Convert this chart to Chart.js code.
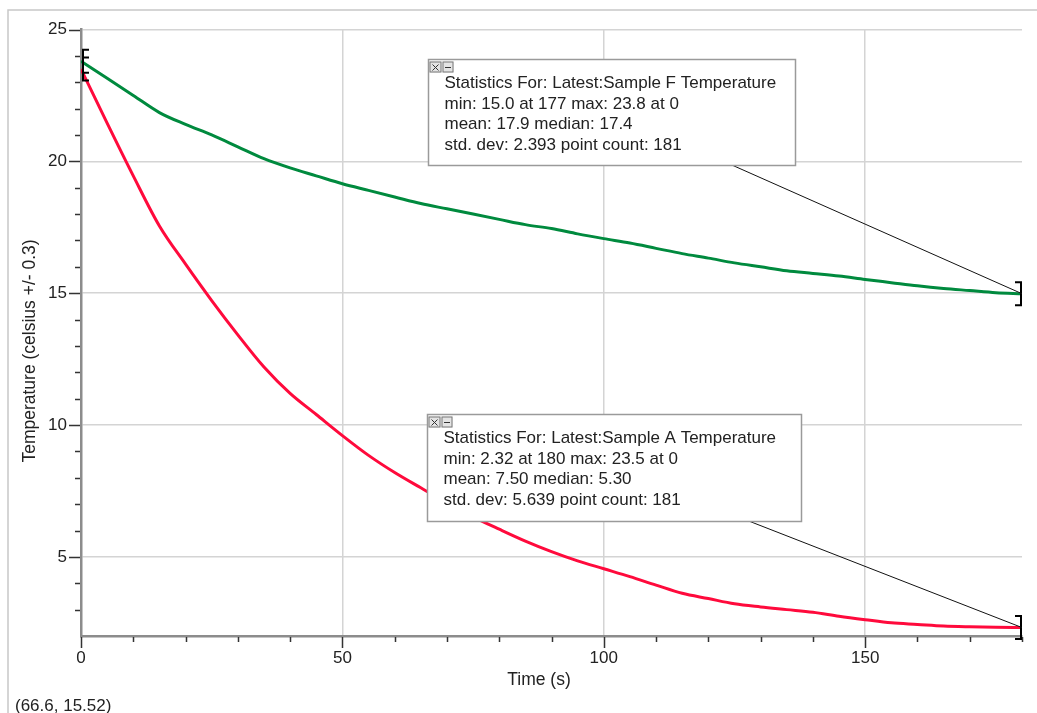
<!DOCTYPE html>
<html>
<head>
<meta charset="utf-8">
<style>
  html, body { margin: 0; padding: 0; background: #fff; }
  #wrap { width: 1037px; height: 713px; position: relative; }
</style>
<script src="https://cdn.jsdelivr.net/npm/chart.js@4.4.1/dist/chart.umd.min.js"></script>
</head>
<body>
<div id="wrap"><canvas id="tempChart"></canvas></div>
<script>
// ---------------- DATA ----------------
const times = [0, 5, 10, 15, 20, 25, 30, 35, 40, 45, 50, 55, 60, 65, 70, 75, 80, 85, 90,
  95, 100, 105, 110, 115, 120, 125, 130, 135, 140, 145, 150, 155, 160, 165, 170, 175, 180];

const sampleF = [23.8, 23.15, 22.5, 21.85, 21.4, 21.0, 20.55, 20.1, 19.75, 19.45, 19.15,
  18.9, 18.65, 18.4, 18.2, 18.0, 17.8, 17.6, 17.45, 17.25, 17.07, 16.9, 16.7, 16.5, 16.33,
  16.15, 16.0, 15.85, 15.75, 15.65, 15.52, 15.4, 15.28, 15.18, 15.1, 15.02, 14.98];

const sampleA = [23.5, 21.45, 19.45, 17.55, 16.1, 14.72, 13.42, 12.2, 11.2, 10.4, 9.6,
  8.85, 8.2, 7.62, 7.05, 6.52, 6.05, 5.6, 5.2, 4.85, 4.55, 4.25, 3.93, 3.62, 3.42,
  3.22, 3.1, 3.0, 2.9, 2.75, 2.62, 2.5, 2.44, 2.38, 2.35, 2.33, 2.32];

const xMajor = [0, 50, 100, 150];
const yMajor = [5, 10, 15, 20, 25];

const statsF = [
  "Statistics For: Latest:Sample F Temperature",
  "min: 15.0 at 177 max: 23.8 at 0",
  "mean: 17.9 median: 17.4",
  "std. dev: 2.393 point count: 181"
];
const statsA = [
  "Statistics For: Latest:Sample A Temperature",
  "min: 2.32 at 180 max: 23.5 at 0",
  "mean: 7.50 median: 5.30",
  "std. dev: 5.639 point count: 181"
];
const cursorText = "(66.6, 15.52)";

const FONT = '"Liberation Sans", Arial, sans-serif';
const TEXT_COLOR = "#222";
const GREEN = "#008a3e";
const RED = "#ff0a3c";

// ---------------- OVERLAY (ticks, brackets, stats boxes) ----------------
function drawStatsBox(ctx, box, lines, target) {
  // leader line
  ctx.strokeStyle = "#111";
  ctx.lineWidth = 1;
  ctx.beginPath();
  ctx.moveTo(box.lx, box.y + box.h);
  ctx.lineTo(target.x, target.y);
  ctx.stroke();

  ctx.fillStyle = "#fff";
  ctx.fillRect(box.x, box.y, box.w, box.h);
  ctx.strokeStyle = "#9a9a9a";
  ctx.lineWidth = 1.5;
  ctx.strokeRect(box.x, box.y, box.w, box.h);

  // close / minimise buttons
  const by = box.y + 2;
  ctx.fillStyle = "#e4e4e4";
  ctx.fillRect(box.x + 1, by, 12, 11);
  ctx.fillRect(box.x + 14, by, 11, 11);
  ctx.strokeStyle = "#777";
  ctx.lineWidth = 1;
  ctx.strokeRect(box.x + 1.5, by + 0.5, 11, 10);
  ctx.strokeRect(box.x + 14.5, by + 0.5, 10, 10);
  ctx.strokeStyle = "#333";
  ctx.beginPath();
  ctx.moveTo(box.x + 4, by + 3); ctx.lineTo(box.x + 10, by + 9);
  ctx.moveTo(box.x + 10, by + 3); ctx.lineTo(box.x + 4, by + 9);
  ctx.moveTo(box.x + 16.5, by + 6); ctx.lineTo(box.x + 22.5, by + 6);
  ctx.stroke();

  ctx.fillStyle = TEXT_COLOR;
  ctx.font = "17px " + FONT;
  ctx.textAlign = "left";
  ctx.textBaseline = "alphabetic";
  lines.forEach((t, i) => {
    ctx.fillText(t, box.x + 16, box.y + 28.5 + i * 20.5);
  });
}

function bracket(ctx, px, py, dir) {
  ctx.beginPath();
  ctx.moveTo(px + dir * 6, py - 11.5);
  ctx.lineTo(px, py - 11.5);
  ctx.lineTo(px, py + 11.5);
  ctx.lineTo(px + dir * 6, py + 11.5);
  ctx.stroke();
}

const overlayPlugin = {
  id: "overlay",
  afterDraw(chart) {
    const { ctx, chartArea } = chart;
    const xs = chart.scales.x;
    const ys = chart.scales.y;
    ctx.save();

    // outer frame
    ctx.strokeStyle = "#c8c8c8";
    ctx.lineWidth = 1.5;
    ctx.beginPath();
    ctx.moveTo(8, 713);
    ctx.lineTo(8, 10);
    ctx.lineTo(1037, 10);
    ctx.stroke();

    // tick marks
    ctx.strokeStyle = "#333";
    ctx.lineWidth = 1.5;
    ctx.beginPath();
    ys.ticks.forEach(t => {
      if (t.value === ys.min) return;
      const py = Math.round(ys.getPixelForValue(t.value)) + 0.5;
      const len = yMajor.includes(t.value) ? 12 : 6;
      ctx.moveTo(chartArea.left - len, py);
      ctx.lineTo(chartArea.left - 1, py);
    });
    xs.ticks.forEach(t => {
      const px = Math.round(xs.getPixelForValue(t.value)) + 0.5;
      const len = xMajor.includes(t.value) ? 12 : 6;
      ctx.moveTo(px, chartArea.bottom + 1);
      ctx.lineTo(px, chartArea.bottom + len);
    });
    ctx.stroke();

    // selection brackets at the start and end of each run
    const last = times.length - 1;
    ctx.strokeStyle = "#000";
    ctx.lineWidth = 2;
    bracket(ctx, xs.getPixelForValue(times[0]) + 2, ys.getPixelForValue(sampleF[0]), 1);
    bracket(ctx, xs.getPixelForValue(times[0]) + 2, ys.getPixelForValue(sampleA[0]), 1);
    bracket(ctx, xs.getPixelForValue(times[last]) - 1, ys.getPixelForValue(sampleF[last]), -1);
    bracket(ctx, xs.getPixelForValue(times[last]) - 1, ys.getPixelForValue(sampleA[last]), -1);

    // stats boxes
    drawStatsBox(ctx, { x: 428.5, y: 59.5, w: 367, h: 106, lx: 733 }, statsF,
      { x: xs.getPixelForValue(times[last]), y: ys.getPixelForValue(sampleF[last]) });
    drawStatsBox(ctx, { x: 427.5, y: 414.5, w: 374, h: 107, lx: 750 }, statsA,
      { x: xs.getPixelForValue(times[last]), y: ys.getPixelForValue(sampleA[last]) });

    // axis titles
    ctx.fillStyle = TEXT_COLOR;
    ctx.font = "17.5px " + FONT;
    ctx.textAlign = "center";
    ctx.textBaseline = "alphabetic";
    ctx.fillText("Time (s)", 539, 685);
    ctx.save();
    ctx.translate(35, 351);
    ctx.rotate(-Math.PI / 2);
    ctx.fillText("Temperature (celsius +/- 0.3)", 0, 0);
    ctx.restore();

    // cursor readout
    ctx.font = "17px " + FONT;
    ctx.textAlign = "left";
    ctx.fillText(cursorText, 15, 711);

    ctx.restore();
  }
};

// ---------------- CHART ----------------
const canvas = document.getElementById("tempChart");
const toPoints = vals => times.map((t, i) => ({ x: t, y: vals[i] }));

new Chart(canvas.getContext("2d"), {
  type: "line",
  data: {
    datasets: [
      {
        label: "Sample F Temperature",
        data: toPoints(sampleF),
        borderColor: GREEN,
        borderWidth: 3,
        pointRadius: 0,
        cubicInterpolationMode: "monotone"
      },
      {
        label: "Sample A Temperature",
        data: toPoints(sampleA),
        borderColor: RED,
        borderWidth: 3,
        pointRadius: 0,
        cubicInterpolationMode: "monotone"
      }
    ]
  },
  options: {
    responsive: true,
    maintainAspectRatio: false,
    animation: false,
    devicePixelRatio: 1,
    layout: { padding: { left: 0, right: 15, top: 29.5, bottom: 0 } },
    plugins: {
      legend: { display: false },
      tooltip: { enabled: false }
    },
    scales: {
      x: {
        type: "linear",
        min: 0,
        max: 180,
        afterFit: s => { s.height = 77; },
        ticks: {
          stepSize: 10,
          autoSkip: false,
          maxRotation: 0,
          padding: 12,
          color: TEXT_COLOR,
          font: { family: FONT, size: 17 },
          callback: v => xMajor.includes(v) ? v : ""
        },
        grid: {
          drawTicks: false,
          lineWidth: 1.5,
          color: c => (c.tick && c.tick.value !== 0 && xMajor.includes(c.tick.value)) ? "#d4d4d4" : "rgba(0,0,0,0)"
        },
        border: { color: "#8c8c8c", width: 2.5 }
      },
      y: {
        type: "linear",
        min: 2,
        max: 25,
        afterFit: s => { s.width = 81; },
        ticks: {
          stepSize: 1,
          autoSkip: false,
          padding: 14,
          color: TEXT_COLOR,
          font: { family: FONT, size: 17 },
          callback: v => yMajor.includes(v) ? v : ""
        },
        grid: {
          drawTicks: false,
          lineWidth: 1.5,
          color: c => (c.tick && yMajor.includes(c.tick.value)) ? "#d4d4d4" : "rgba(0,0,0,0)"
        },
        border: { color: "#8c8c8c", width: 2.5 }
      }
    }
  },
  plugins: [overlayPlugin]
});
</script>
</body>
</html>
